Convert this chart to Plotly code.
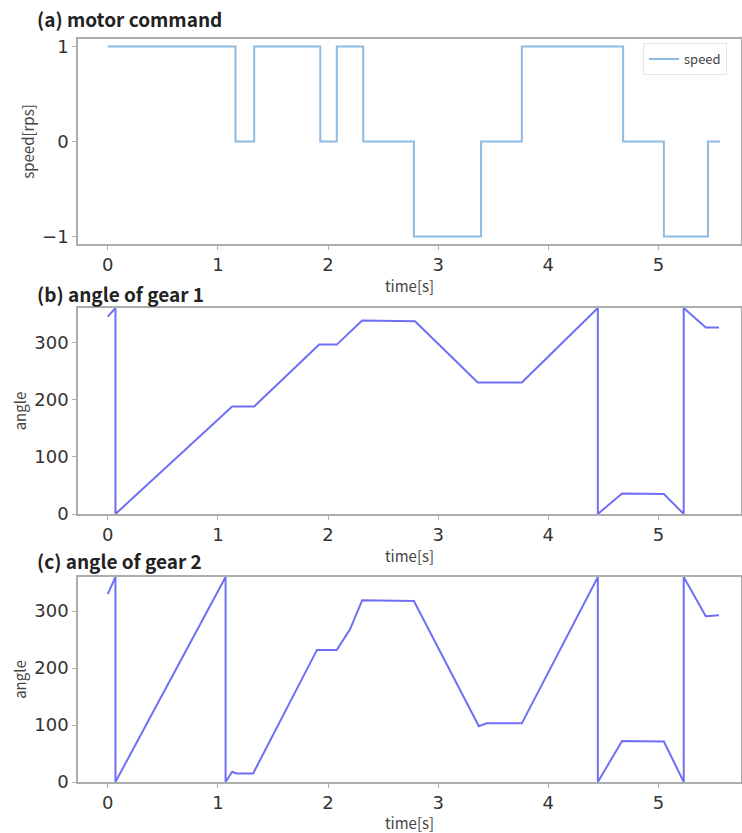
import plotly.graph_objects as go

# ---- data ----
speed_t = [0, 1.16, 1.33, 1.93, 2.08, 2.32, 2.78, 3.39, 3.76, 4.68, 5.05, 5.45, 5.56]
speed_v = [1, 0, 1, 0, 1, 0, -1, 0, 1, 0, -1, 0, 0]

gear1_t = [0, 0.07, 0.07, 1.13, 1.33, 1.92, 2.08, 2.31, 2.79, 3.36, 3.76, 4.45, 4.45,
           4.67, 5.05, 5.23, 5.23, 5.43, 5.55]
gear1_a = [345, 360, 0, 188, 188, 296, 296, 338, 337, 230, 230, 360, 0,
           36, 35, 0, 360, 326, 326]

gear2_t = [0, 0.07, 0.07, 1.07, 1.07, 1.13, 1.17, 1.32, 1.90, 2.08, 2.20, 2.31, 2.78,
           3.37, 3.44, 3.76, 4.45, 4.45, 4.67, 5.05, 5.23, 5.23, 5.43, 5.55]
gear2_a = [330, 360, 0, 360, 0, 18, 15, 15, 232, 232, 268, 319, 318,
           98, 103, 103, 360, 0, 72, 71, 0, 360, 291, 293]

titles = ["(a) motor command", "(b) angle of gear 1", "(c) angle of gear 2"]
ytitles = ["speed[rps]", "angle", "angle"]
xticks = [0, 1, 2, 3, 4, 5]

W, H = 742, 833
def py(p):
    return 1 - p / H

panels = [(39, 244), (308, 514), (577, 782)]
title_y = [19, 293, 560]

fig = go.Figure()
fig.add_trace(go.Scatter(x=speed_t, y=speed_v, mode="lines", line_shape="hv",
                         line=dict(color="#8dbbe3", width=2), name="speed",
                         xaxis="x", yaxis="y", showlegend=True))
fig.add_trace(go.Scatter(x=gear1_t, y=gear1_a, mode="lines",
                         line=dict(color="#6f6ff5", width=2), name="gear1",
                         xaxis="x2", yaxis="y2", showlegend=False))
fig.add_trace(go.Scatter(x=gear2_t, y=gear2_a, mode="lines",
                         line=dict(color="#6f6ff5", width=2), name="gear2",
                         xaxis="x3", yaxis="y3", showlegend=False))

tickfont = dict(family="DejaVu Sans", size=18, color="#333333")
labfont = dict(family="Noto Sans CJK JP", size=15, color="#444444")
frame = "#adadad"

layout = dict(width=W, height=H, margin=dict(l=0, r=0, t=0, b=0, autoexpand=False),
              plot_bgcolor="white", paper_bgcolor="white",
              legend=dict(x=643 / W, y=py(43), xanchor="left", yanchor="top",
                          bgcolor="white", bordercolor="#e6e6e6", borderwidth=1,
                          font=dict(family="Noto Sans CJK JP", size=13, color="#444444"),
                          itemwidth=30, tracegroupgap=0))
annotations = []
for i in range(3):
    sfx = "" if i == 0 else str(i + 1)
    top, bot = panels[i]
    xa = dict(domain=[78 / W, 741 / W], range=[-0.27, 5.75], tickvals=xticks,
              ticks="outside", ticklen=4, tickcolor=frame, showgrid=False,
              zeroline=False, showline=True, linecolor=frame, linewidth=1.5,
              mirror=True, tickfont=tickfont, automargin=False,
              title=dict(text="time[s]", font=labfont, standoff=0),
              anchor="y" + sfx)
    if i == 0:
        ya = dict(range=[-1.08, 1.08], tickvals=[-1, 0, 1], ticktext=["\u22121", "0", "1"])
    else:
        ya = dict(range=[0, 360], tickvals=[0, 100, 200, 300])
    ya.update(domain=[py(bot), py(top)], ticks="outside", ticklen=4, tickcolor=frame,
              showgrid=False, zeroline=False, showline=True, linecolor=frame,
              linewidth=1.5, mirror=True, tickfont=tickfont, automargin=False,
              title=dict(text=ytitles[i], font=labfont, standoff=4),
              anchor="x" + sfx)
    layout["xaxis" + sfx] = xa
    layout["yaxis" + sfx] = ya
    annotations.append(dict(text="<b>" + titles[i] + "</b>", x=35 / W, y=py(title_y[i]),
                            xref="paper", yref="paper", xanchor="left", yanchor="middle",
                            showarrow=False,
                            font=dict(family="Noto Sans CJK JP", size=19, color="#222222")))
layout["annotations"] = annotations
fig.update_layout(**layout)
fig.write_html("out.html", config={"displayModeBar": False},
               post_script="document.body.style.margin='0';document.body.style.overflow='hidden';")
